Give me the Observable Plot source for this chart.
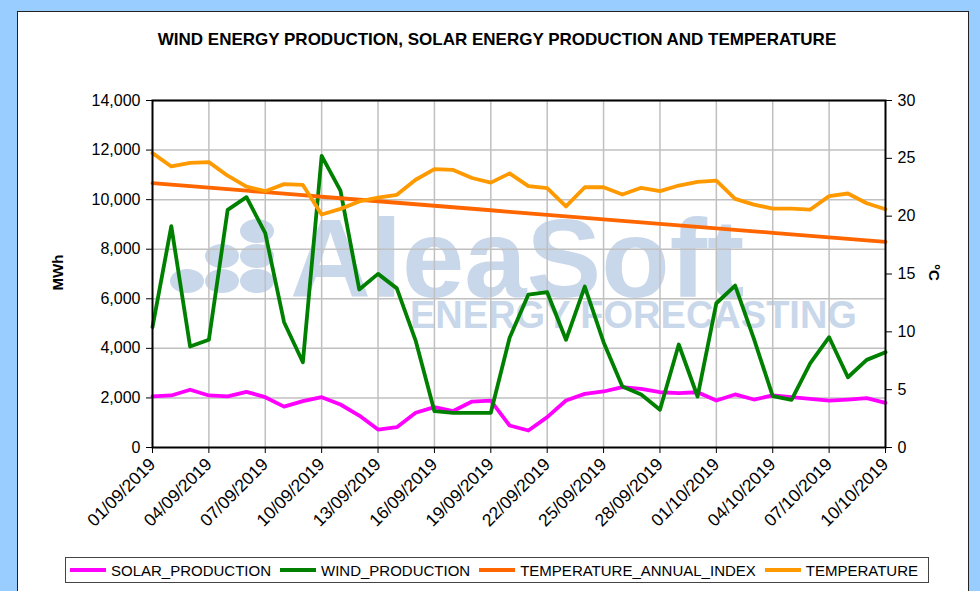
<!DOCTYPE html>
<html><head><meta charset="utf-8">
<script src="https://cdn.jsdelivr.net/npm/d3@7"></script>
<script src="https://cdn.jsdelivr.net/npm/@observablehq/plot@0.6"></script>
<style>
html,body{margin:0;padding:0;}
body{background:#99ccff;width:980px;height:591px;overflow:hidden;position:relative;font-family:"Liberation Sans",Arial,sans-serif;color:#000;}
#panel{position:absolute;left:17px;top:11px;width:952px;height:600px;background:#fff;border:1px solid #222;box-sizing:border-box;}
#title{position:absolute;left:0;width:994px;top:30px;text-align:center;font-weight:bold;font-size:17px;}
#wm{position:absolute;left:0;top:0;}
.wmt{position:absolute;font-weight:bold;color:#c9d7eb;white-space:nowrap;}
#chart{position:absolute;left:0;top:0;}
.ylab{position:absolute;font-weight:bold;font-size:15px;}
#legend{position:absolute;left:65px;top:557px;width:864px;height:26px;border:1px solid #444;box-sizing:border-box;display:flex;align-items:center;font-size:15px;padding-left:4px;}
.li{display:flex;align-items:center;margin-right:9px;}
.sw{display:inline-block;width:36px;height:4px;margin-right:5px;}
</style>
</head><body>
<div id="panel"></div>
<svg id="wm" width="980" height="591">
  <g fill="#c9d7eb">
    <ellipse cx="257" cy="231" rx="17" ry="12"/>
    <ellipse cx="222" cy="256" rx="17" ry="12"/>
    <ellipse cx="257" cy="256" rx="17" ry="12"/>
    <ellipse cx="187" cy="281" rx="17" ry="12"/>
    <ellipse cx="222" cy="281" rx="17" ry="12"/>
    <ellipse cx="257" cy="281" rx="17" ry="12"/>
  </g>
</svg>
<div class="wmt" style="left:290px;top:218px;font-size:112px;line-height:82px;height:82px;">AleaSoft</div>
<div class="wmt" style="left:410px;top:301px;font-size:38px;line-height:28px;height:28px;">ENERGY FORECASTING</div>
<div id="title">WIND ENERGY PRODUCTION, SOLAR ENERGY PRODUCTION AND TEMPERATURE</div>
<div id="chart"></div>
<div class="ylab" style="left:40px;top:264px;transform:rotate(-90deg);">MWh</div>
<div class="ylab" style="left:926px;top:264px;transform:rotate(90deg);">°C</div>
<div id="legend"></div>
<script>
const solar = [2060,2100,2330,2100,2060,2245,2030,1650,1870,2030,1735,1290,725,820,1400,1630,1470,1855,1895,887,685,1225,1895,2165,2260,2435,2365,2230,2190,2230,1895,2140,1935,2100,2030,1965,1895,1935,1990,1800];
const wind = [4855,8930,4075,4345,9590,10100,8645,5055,3440,11765,10365,6375,7005,6420,4315,1465,1400,1400,1400,4425,6170,6265,4345,6495,4250,2460,2140,1520,4155,2057,5820,6535,4385,2070,1925,3400,4450,2835,3535,3845];
const temperature = [25.45,24.3,24.6,24.67,23.5,22.56,22.16,22.77,22.7,20.14,20.63,21.27,21.6,21.85,23.15,24.06,24.0,23.3,22.9,23.7,22.6,22.42,20.84,22.5,22.5,21.87,22.45,22.16,22.65,22.97,23.08,21.5,21.0,20.66,20.66,20.57,21.73,21.96,21.12,20.6];
const annualIndex = [22.85,22.72,22.59,22.46,22.33,22.2,22.07,21.94,21.81,21.68,21.55,21.42,21.29,21.16,21.03,20.9,20.77,20.64,20.51,20.38,20.25,20.12,19.99,19.86,19.73,19.6,19.47,19.34,19.21,19.08,18.95,18.82,18.69,18.56,18.43,18.3,18.17,18.04,17.91,17.78];
const tickLabels = ["01/09/2019","04/09/2019","07/09/2019","10/09/2019","13/09/2019","16/09/2019","19/09/2019","22/09/2019","25/09/2019","28/09/2019","01/10/2019","04/10/2019","07/10/2019","10/10/2019"];
const mwhTicks = [0,2000,4000,6000,8000,10000,12000,14000];
const tempTicks = [0,5,10,15,20,25,30];
const seriesNames = ["SOLAR_PRODUCTION","WIND_PRODUCTION","TEMPERATURE_ANNUAL_INDEX","TEMPERATURE"];
const seriesColors = ["#ff00ff","#008000","#ff6600","#ff9900"];

const parse = s => { const [d,m,y] = s.split("/").map(Number); return new Date(Date.UTC(y, m-1, d)); };
const start = parse(tickLabels[0]);
const dates = d3.utcDay.range(start, d3.utcDay.offset(start, solar.length));
const tickDates = tickLabels.map(parse);
const labelOf = new Map(tickDates.map((d,i)=>[+d, tickLabels[i]]));
const K = 14000/30;
const rows = dates.map((d,i)=>({date:d, solar:solar[i], wind:wind[i], annual:annualIndex[i]*K, temp:temperature[i]*K}));

const chart = Plot.plot({
  width: 980, height: 560,
  marginLeft: 152, marginRight: 95, marginTop: 100, marginBottom: 113,
  style: {background:"transparent", fontFamily:"Liberation Sans, Arial, sans-serif", fontSize:"16px", color:"#000", overflow:"visible"},
  x: {type:"utc", domain:[dates[0], dates[dates.length-1]]},
  y: {domain:[0,14000]},
  marks: [
    Plot.gridY(mwhTicks.slice(1), {stroke:"#c0c0c0", strokeOpacity:1, strokeWidth:1.5}),
    Plot.gridX(tickDates.slice(1,-1), {stroke:"#c0c0c0", strokeOpacity:1, strokeWidth:1.5}),
    Plot.axisY(mwhTicks, {anchor:"left", tickFormat: d3.format(","), tickSize:6, tickPadding:6, label:null, stroke:"#000"}),
    Plot.axisY(tempTicks.map(t=>t*K), {anchor:"right", tickFormat: d=>String(Math.round(d/K)), tickSize:6, tickPadding:6, label:null, stroke:"#000"}),
    Plot.axisX(tickDates, {tickRotate:-45, tickFormat: d=>labelOf.get(+d), tickSize:6, tickPadding:8, label:null, stroke:"#000", fontSize:17.5}),
    Plot.lineY(rows, {x:"date", y:"solar", stroke:seriesColors[0], strokeWidth:3.8}),
    Plot.lineY(rows, {x:"date", y:"wind", stroke:seriesColors[1], strokeWidth:3.8}),
    Plot.lineY(rows, {x:"date", y:"annual", stroke:seriesColors[2], strokeWidth:3.8}),
    Plot.lineY(rows, {x:"date", y:"temp", stroke:seriesColors[3], strokeWidth:3.8}),
    Plot.frame({stroke:"#000", strokeWidth:2})
  ]
});
document.getElementById("chart").appendChild(chart);

const lg = document.getElementById("legend");
seriesNames.forEach((n,i)=>{
  const it = document.createElement("div"); it.className="li";
  const sw = document.createElement("span"); sw.className="sw"; sw.style.background=seriesColors[i];
  const tx = document.createElement("span"); tx.textContent=n;
  it.appendChild(sw); it.appendChild(tx); lg.appendChild(it);
});
</script>
</body></html>
